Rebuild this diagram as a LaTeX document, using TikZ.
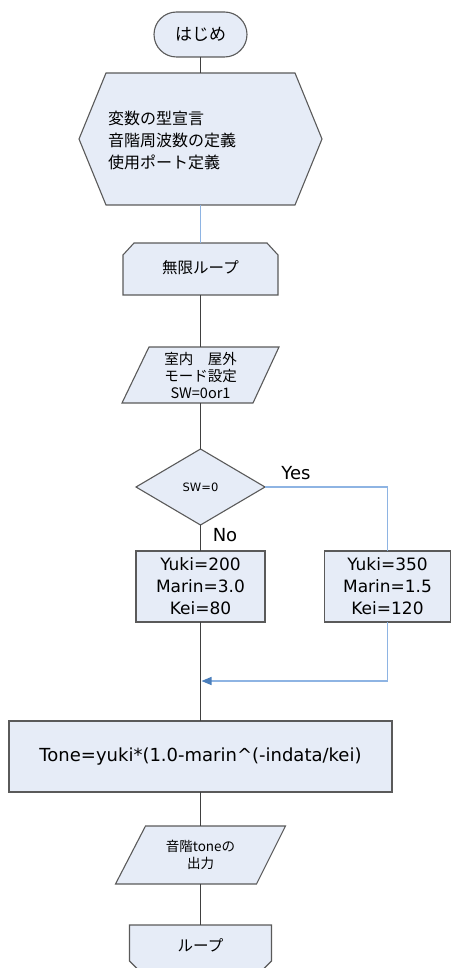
\documentclass[tikz,border=0pt]{standalone}
\usepackage{fontspec}
\setmainfont{DejaVu Sans}
\newfontfamily\jp{Noto Sans CJK JP}
\usetikzlibrary{shapes.geometric,arrows.meta}
\definecolor{boxfill}{HTML}{E6ECF7}
\definecolor{boxline}{HTML}{5A5A5A}
\definecolor{conn}{HTML}{404040}
\definecolor{bconn}{HTML}{8EB4E3}
\definecolor{barrow}{HTML}{4A7EBB}
\begin{document}
\begin{tikzpicture}[x=1pt,y=-1pt,
  shp/.style={draw=boxline, fill=boxfill, line width=1.1pt},
  holder/.style={inner sep=0pt, outer sep=0pt},
  conn/.style={draw=conn, line width=1.1pt},
  bconn/.style={draw=bconn, line width=1.3pt},
  lbl/.style={inner sep=0pt, font=\fontsize{18}{20}\selectfont}
]
\useasboundingbox (0,0) rectangle (452,968);
\clip (0,0) rectangle (452,968);

% start terminal
\node[shp, holder, rounded corners=22.5pt, minimum width=93pt, minimum height=45pt,
  font=\jp\fontsize{17}{20}\selectfont] (start) at (200.5,34.5) {はじめ};

% preparation hexagon
\node[holder, minimum width=243pt, minimum height=132pt] (hex) at (200.5,139) {};
\draw[shp] ([xshift=27pt]hex.north west) -- ([xshift=-27pt]hex.north east) -- (hex.east)
  -- ([xshift=-27pt]hex.south east) -- ([xshift=27pt]hex.south west) -- (hex.west) -- cycle;
\node[holder, anchor=west, align=left, font=\jp\fontsize{16}{22}\selectfont] (hextext)
  at (108,140) {変数の型宣言\\音階周波数の定義\\使用ポート定義};

% loop start
\node[holder, minimum width=155pt, minimum height=52pt] (loop) at (200.5,269) {};
\draw[shp] ([yshift=-12pt]loop.north west) -- ([xshift=11pt]loop.north west)
  -- ([xshift=-11pt]loop.north east) -- ([yshift=-12pt]loop.north east)
  -- (loop.south east) -- (loop.south west) -- cycle;
\node[holder, font=\jp\fontsize{15.5}{18}\selectfont] (looptext) at (200.5,268) {無限ループ};

% mode input parallelogram
\node[holder, minimum width=157pt, minimum height=56pt] (mode) at (200.5,375) {};
\draw[shp] ([xshift=27pt]mode.north west) -- (mode.north east)
  -- ([xshift=-26pt]mode.south east) -- (mode.south west) -- cycle;
\node[holder, align=center, font=\jp\fontsize{14.5}{17}\selectfont] (modetext)
  at (200.5,375) {室内　屋外\\モード設定\\SW=0or1};

% decision
\node[shp, diamond, holder, minimum width=129pt, minimum height=76pt,
  font=\fontsize{11.5}{13}\selectfont] (dec) at (200.5,487) {SW=0};

% branch boxes
\node[shp, holder, minimum width=129pt, minimum height=71pt, align=center,
  font=\fontsize{17}{22}\selectfont] (lbox) at (200.5,586.5) {Yuki=200\\Marin=3.0\\Kei=80};
\node[shp, holder, minimum width=126pt, minimum height=71pt, align=center,
  font=\fontsize{17}{22}\selectfont] (rbox) at (387.5,586.5) {Yuki=350\\Marin=1.5\\Kei=120};

% tone process
\node[shp, holder, minimum width=383pt, minimum height=71pt,
  font=\fontsize{18}{20}\selectfont] (tone) at (200.5,756.5) {Tone=yuki*(1.0-marin\^{}(-indata/kei)};

% output parallelogram
\node[holder, minimum width=170pt, minimum height=58pt] (out) at (200.5,855) {};
\draw[shp] ([xshift=30pt]out.north west) -- (out.north east)
  -- ([xshift=-29pt]out.south east) -- (out.south west) -- cycle;
\node[holder, align=center, font=\jp\fontsize{13.5}{17}\selectfont] (outtext)
  at (200.5,855) {音階toneの\\出力};

% loop end
\node[holder, minimum width=142pt, minimum height=48pt] (lend) at (200.5,949) {};
\draw[shp] (lend.north west) -- (lend.north east) -- ([yshift=12pt]lend.south east)
  -- ([xshift=-12pt]lend.south east) -- ([xshift=12pt]lend.south west)
  -- ([yshift=12pt]lend.south west) -- cycle;
\node[holder, font=\jp\fontsize{15.5}{18}\selectfont] (lendtext) at (200.5,945) {ループ};

% connectors
\draw[conn] (start.south) -- (hex.north);
\draw[bconn] (hex.south) -- (loop.north);
\draw[conn] (loop.south) -- (mode.north);
\draw[conn] (mode.south) -- (dec.north);
\draw[conn] (dec.south) -- (lbox.north);
\draw[bconn] (dec.east) -| (rbox.north);
\draw[conn] (lbox.south) -- (tone.north);
\coordinate (join) at (201.5,681);
\draw[bconn, -{Triangle[length=10pt,width=8pt,color=barrow]}] (rbox.south) |- (join);
\draw[conn] (tone.south) -- (out.north);
\draw[conn] (out.south) -- (lend.north);

% labels
\node[lbl] (yes) at (296,473) {Yes};
\node[lbl] (no) at (225,535) {No};
\end{tikzpicture}
\end{document}
